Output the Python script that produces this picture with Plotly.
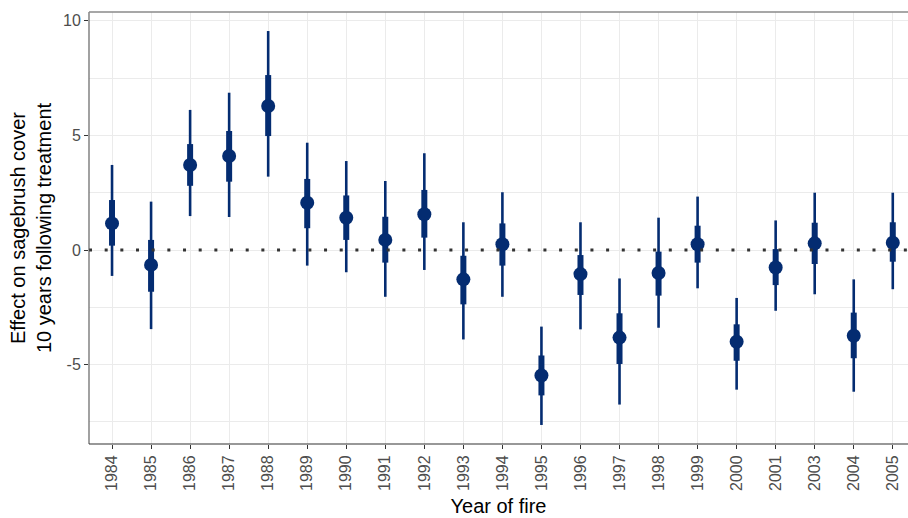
import plotly.graph_objects as go

years = ["1984", "1985", "1986", "1987", "1988", "1989", "1990", "1991", "1992", "1993", "1994",
         "1995", "1996", "1997", "1998", "1999", "2000", "2001", "2003", "2004", "2005"]
estimate = [1.16, -0.65, 3.71, 4.10, 6.28, 2.06, 1.41, 0.44, 1.56, -1.28, 0.25,
            -5.47, -1.05, -3.82, -1.00, 0.25, -4.00, -0.76, 0.29, -3.74, 0.32]
inner_hi = [2.18, 0.44, 4.62, 5.19, 7.63, 3.10, 2.38, 1.45, 2.62, -0.25, 1.16,
            -4.60, -0.22, -2.76, -0.07, 1.06, -3.24, 0.04, 1.19, -2.73, 1.21]
inner_lo = [0.19, -1.82, 2.80, 2.98, 4.97, 0.95, 0.44, -0.55, 0.54, -2.37, -0.68,
            -6.34, -1.96, -4.97, -1.99, -0.55, -4.83, -1.53, -0.61, -4.72, -0.51]
outer_hi = [3.71, 2.11, 6.11, 6.86, 9.55, 4.68, 3.88, 3.01, 4.22, 1.21, 2.52,
            -3.34, 1.21, -1.24, 1.41, 2.33, -2.09, 1.29, 2.50, -1.28, 2.50]
outer_lo = [-1.13, -3.45, 1.48, 1.44, 3.20, -0.68, -0.97, -2.04, -0.87, -3.90, -2.04,
            -7.63, -3.46, -6.74, -3.39, -1.67, -6.09, -2.65, -1.93, -6.18, -1.71]

navy = "#042C71"

fig = go.Figure()
fig.add_trace(go.Scatter(
    x=years, y=estimate, mode="markers", marker=dict(size=1, color="rgba(0,0,0,0)"),
    error_y=dict(type="data", symmetric=False,
                 array=[h - e for h, e in zip(outer_hi, estimate)],
                 arrayminus=[e - l for e, l in zip(estimate, outer_lo)],
                 thickness=2.6, width=0, color=navy),
    showlegend=False, hoverinfo="skip"))
fig.add_trace(go.Scatter(
    x=years, y=estimate, mode="markers", marker=dict(size=1, color="rgba(0,0,0,0)"),
    error_y=dict(type="data", symmetric=False,
                 array=[h - e for h, e in zip(inner_hi, estimate)],
                 arrayminus=[e - l for e, l in zip(estimate, inner_lo)],
                 thickness=6, width=0, color=navy),
    showlegend=False, hoverinfo="skip"))
fig.add_trace(go.Scatter(
    x=years, y=estimate, mode="markers",
    marker=dict(size=14, color=navy, line=dict(width=0)),
    showlegend=False))

# dotted zero line
fig.add_shape(type="line", xref="paper", yref="y", x0=0, x1=1, y0=0, y1=0,
              line=dict(color="#333333", width=3, dash="3px,12.67px"), layer="above")
# panel border (left, bottom dark; top lighter as in reference)
fig.add_shape(type="line", xref="paper", yref="paper", x0=0, y0=0, x1=0, y1=1,
              line=dict(color="#555555", width=1.1), layer="above")
fig.add_shape(type="line", xref="paper", yref="paper", x0=0, y0=0, x1=1, y1=0,
              line=dict(color="#333333", width=1.1), layer="above")
fig.add_shape(type="line", xref="paper", yref="paper", x0=0, y0=1, x1=1, y1=1,
              line=dict(color="#8A8A8A", width=1.4), layer="above")

tickfont = dict(family="Liberation Sans, Arial, sans-serif", size=16, color="#4D4D4D")
titlefont = dict(family="Liberation Sans, Arial, sans-serif", size=20, color="#000000")

fig.update_xaxes(
    type="category", categoryorder="array", categoryarray=years,
    range=[-0.59, 20.39],
    showgrid=True, gridcolor="#EBEBEB", gridwidth=1.1,
    ticks="outside", ticklen=4, tickwidth=1.1, tickcolor="#333333",
    tickangle=-90, tickfont=tickfont,
    title=dict(text="Year of fire", font=titlefont, standoff=9),
    showline=False, zeroline=False)
fig.update_yaxes(
    range=[-8.46, 10.38], tickvals=[-5, 0, 5, 10], ticktext=["-5", "0", "5", "10"],
    showgrid=True, gridcolor="#EBEBEB", gridwidth=1.1,
    minor=dict(tickvals=[-7.5, -2.5, 2.5, 7.5], showgrid=True, gridcolor="#EBEBEB",
               gridwidth=0.6, ticks=""),
    ticks="outside", ticklen=4, tickwidth=1.1, tickcolor="#333333",
    tickfont=tickfont,
    title=dict(text="Effect on sagebrush cover<br>10 years following treatment",
               font=titlefont, standoff=6),
    showline=False, zeroline=False)

fig.update_layout(
    width=908, height=518,
    margin=dict(l=89, r=0, t=12, b=74),
    plot_bgcolor="white", paper_bgcolor="white",
    font=dict(family="Liberation Sans, Arial, sans-serif"),
)

fig.write_html("out.html")
